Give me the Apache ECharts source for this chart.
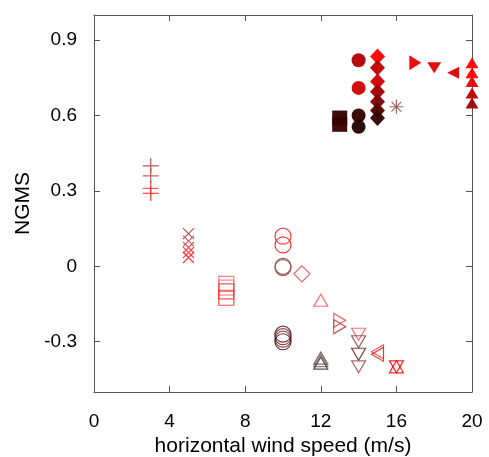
<!DOCTYPE html>
<html>
<head>
<meta charset="utf-8">
<script src="https://cdn.jsdelivr.net/npm/echarts@6/dist/echarts.min.js"></script>
<style>html,body{margin:0;padding:0;background:#fff}#c{width:489px;height:457px}</style>
</head>
<body>
<div id="c"></div>
<script>
// ---------- data ----------
const xTicks = [0, 4, 8, 12, 16, 20];
const yTicks = [-0.3, 0, 0.3, 0.6, 0.9];

// open markers
const plusX = [3, 3, 3, 3];
const plusY = [0.40, 0.36, 0.31, 0.29];
const crossX = [5, 5, 5, 5, 5];
const crossY = [0.13, 0.10, 0.075, 0.055, 0.035];
const squareX = [7, 7, 7, 7];
const squareY = [-0.07, -0.085, -0.10, -0.125];
const circleX = [10, 10, 10, 10, 10, 10, 10, 10];
const circleY = [0.12, 0.085, 0.0, -0.005, -0.27, -0.28, -0.29, -0.30];
const diamondX = [11];
const diamondY = [-0.03];
const triUpX = [12, 12, 12, 12, 16];
const triUpY = [-0.135, -0.365, -0.375, -0.385, -0.40];
const triRightX = [13, 13];
const triRightY = [-0.215, -0.24];
const triDownX = [14, 14, 14, 14, 16];
const triDownY = [-0.27, -0.30, -0.35, -0.40, -0.40];
const triLeftX = [15, 15];
const triLeftY = [-0.34, -0.35];

// filled markers
const fCircleX = [14, 14, 14, 14];
const fCircleY = [0.82, 0.71, 0.60, 0.555];
const fSquareX = [13, 13];
const fSquareY = [0.59, 0.565];
const fDiamondX = [15, 15, 15, 15, 15, 15, 15];
const fDiamondY = [0.835, 0.79, 0.735, 0.695, 0.655, 0.62, 0.59];
const asteriskX = [16];
const asteriskY = [0.635];
const fTriRightX = [17];
const fTriRightY = [0.81];
const fTriDownX = [18];
const fTriDownY = [0.79];
const fTriLeftX = [19];
const fTriLeftY = [0.77];
const fTriUpX = [20, 20, 20, 20, 20];
const fTriUpY = [0.81, 0.77, 0.735, 0.69, 0.65];

// ---------- styles ----------
const plusC = ['#a83838', '#b84848', '#f04444', '#ff2a2a'];
const crossC = ['#a03a3a', '#d04848', '#e03a3a', '#ff3030', '#ff1a1a'];
const squareC = ['#e07070', '#e88080', '#ff3a3a', '#ff2a2a'];
const circleC = ['#ff2020', '#ff1010', '#804040', '#a05050', '#5a1a1a', '#6a2a2a', '#7a3030', '#401010'];
const diamondC = ['#e04848'];
const triUpC = ['#f05858', '#605050', '#806060', '#403030', '#ff0000'];
const triRightC = ['#e05050', '#c04040'];
const triDownC = ['#ff5a5a', '#804848', '#602828', '#a05050', '#ff0000'];
const triLeftC = ['#ff3a3a', '#e02a2a'];
const fCircleC = ['#b00000', '#d00000', '#300000', '#200000'];
const fSquareC = ['#300000', '#3a0000'];
const fDiamondC = ['#ff0000', '#c00000', '#d00000', '#a00000', '#800000', '#500000', '#300000'];
const asteriskC = ['#904848'];
const fTriRightC = ['#f00000'];
const fTriDownC = ['#e00000'];
const fTriLeftC = ['#e00000'];
const fTriUpC = ['#ff0000', '#ff0000', '#e00000', '#c00000', '#a00000'];

const P_PLUS = 'path://M5,0 L5,10 M0,5 L10,5';
const P_CROSS = 'path://M0,0 L10,10 M10,0 L0,10';
const P_AST = 'path://M5,0 L5,10 M0,5 L10,5 M1.5,1.5 L8.5,8.5 M8.5,1.5 L1.5,8.5';
const P_UP = 'path://M5,0 L10,10 L0,10 Z';
const P_DOWN = 'path://M0,0 L10,0 L5,10 Z';
const P_RIGHT = 'path://M0,0 L10,5 L0,10 Z';
const P_LEFT = 'path://M10,0 L0,5 L10,10 Z';

function mk(xs, ys, cols, symbol, size, filled) {
  return {
    type: 'scatter',
    symbol: symbol,
    symbolSize: size,
    silent: true,
    z: filled ? 3 : 2,
    data: ys.map((y, i) => ({
      value: [xs[i], y],
      itemStyle: filled
        ? { color: cols[i], borderWidth: 0, opacity: 0.95 }
        : { color: 'rgba(0,0,0,0)', borderColor: cols[i], borderWidth: 1.2, opacity: 0.85 }
    }))
  };
}

const axisCol = '#555';
const lineCfg = { show: true, onZero: false, lineStyle: { color: axisCol, width: 1 } };
const chart = echarts.init(document.getElementById('c'), null, { renderer: 'canvas' });
chart.setOption({
  animation: false,
  backgroundColor: '#fff',
  grid: { left: 94, right: 17, top: 15, bottom: 65, containLabel: false, outerBoundsMode: 'none' },
  xAxis: [{
    type: 'value', min: 0, max: 20, interval: 4, position: 'bottom',
    axisLine: lineCfg,
    axisTick: { show: true, inside: true, length: 6, lineStyle: { color: axisCol } },
    axisLabel: { fontSize: 19, color: '#000', margin: 20, fontFamily: 'Liberation Sans' },
    splitLine: { show: false },
    name: 'horizontal wind speed (m/s)', nameLocation: 'middle', nameGap: 40,
    nameTextStyle: { fontSize: 21, color: '#000', fontFamily: 'Liberation Sans' }
  }, {
    type: 'value', min: 0, max: 20, interval: 4, position: 'top',
    axisLine: lineCfg,
    axisTick: { show: true, inside: true, length: 6, lineStyle: { color: axisCol } },
    axisLabel: { show: false }, splitLine: { show: false }
  }],
  yAxis: [{
    type: 'value', min: -0.5, max: 1.0, position: 'left',
    axisLine: lineCfg,
    axisTick: { show: true, inside: true, length: 6, lineStyle: { color: axisCol }, customValues: yTicks },
    axisLabel: { fontSize: 19, color: '#000', margin: 17, fontFamily: 'Liberation Sans',
      customValues: yTicks,
      formatter: v => (Math.abs(v) < 1e-9 ? '0' : Number(v).toFixed(1)) },
    splitLine: { show: false },
    name: 'NGMS', nameLocation: 'middle', nameGap: 56, nameRotate: 90,
    nameTextStyle: { fontSize: 21, color: '#000', fontFamily: 'Liberation Sans' }
  }, {
    type: 'value', min: -0.5, max: 1.0, position: 'right',
    axisLine: lineCfg,
    axisTick: { show: true, inside: true, length: 6, lineStyle: { color: axisCol }, customValues: yTicks },
    axisLabel: { show: false }, splitLine: { show: false }
  }],
  series: [
    mk(plusX, plusY, plusC, P_PLUS, [16, 15], false),
    mk(crossX, crossY, crossC, P_CROSS, [11, 11], false),
    mk(squareX, squareY, squareC, 'rect', [15, 15], false),
    mk(circleX, circleY, circleC, 'circle', 16, false),
    mk(diamondX, diamondY, diamondC, 'diamond', [16, 16], false),
    mk(triUpX, triUpY, triUpC, P_UP, [14, 12], false),
    mk(triRightX, triRightY, triRightC, P_RIGHT, [12, 14], false),
    mk(triDownX, triDownY, triDownC, P_DOWN, [14, 12], false),
    mk(triLeftX, triLeftY, triLeftC, P_LEFT, [12, 14], false),
    mk(fCircleX, fCircleY, fCircleC, 'circle', 14, true),
    mk(fSquareX, fSquareY, fSquareC, 'rect', [15, 15], true),
    mk(fDiamondX, fDiamondY, fDiamondC, 'diamond', [15, 16], true),
    mk(asteriskX, asteriskY, asteriskC, P_AST, [14, 14], false),
    mk(fTriRightX, fTriRightY, fTriRightC, P_RIGHT, [12, 15], true),
    mk(fTriDownX, fTriDownY, fTriDownC, P_DOWN, [14, 11], true),
    mk(fTriLeftX, fTriLeftY, fTriLeftC, P_LEFT, [12, 12], true),
    mk(fTriUpX, fTriUpY, fTriUpC, P_UP, [13, 11], true)
  ]
});
</script>
</body>
</html>
